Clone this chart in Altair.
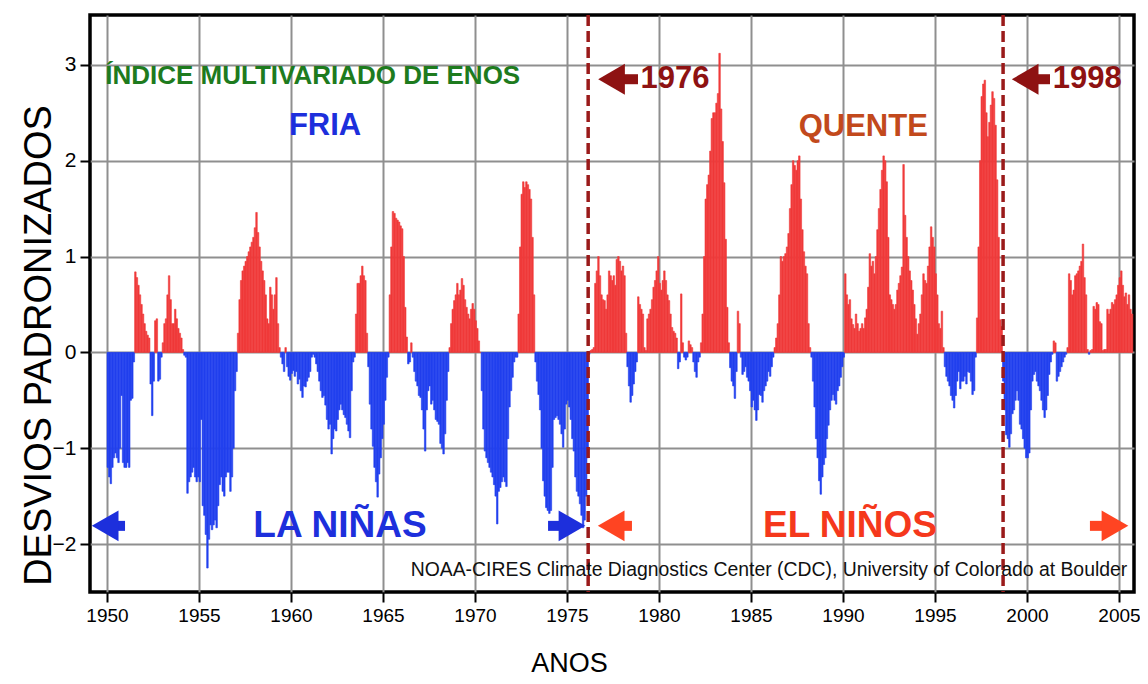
import altair as alt
import pandas as pd

# ---- MEI monthly values (Jan..Dec) ----
y1950 = [-1.2, -1.3, -1.37, -1.2, -1.1, -1.05, -1.1, -1.15, -1.0, -0.45, -1.15, -1.2]
y1951 = [-1.2, -1.15, -1.2, -0.5, -0.48, -0.1, 0.84, 0.78, 0.7, 0.6, 0.5, 0.4]
y1952 = [0.3, 0.22, 0.18, 0.15, -0.33, -0.66, -0.3, 0.33, 0.35, -0.3, -0.28, -0.05]
y1953 = [0.1, 0.3, 0.35, 0.6, 0.8, 0.55, 0.3, 0.3, 0.45, 0.35, 0.25, 0.2]
y1954 = [0.15, 0.03, -0.03, -0.05, -1.47, -1.35, -1.3, -1.25, -1.2, -1.3, -1.35, -1.3]
y1955 = [-1.35, -0.7, -1.6, -1.7, -1.9, -2.25, -1.95, -1.8, -1.85, -1.8, -1.75, -1.83]
y1956 = [-1.6, -1.38, -1.3, -1.45, -1.5, -1.3, -1.25, -1.25, -1.45, -1.3, -1.0, -0.4]
y1957 = [-0.2, 0.2, 0.55, 0.75, 0.85, 0.9, 0.95, 1.0, 1.05, 1.1, 1.15, 1.2]
y1958 = [1.3, 1.46, 1.25, 1.1, 0.95, 0.85, 0.75, 0.6, 0.35, 0.3, 0.68, 0.6]
y1959 = [0.45, 0.6, 0.78, 0.3, 0.05, -0.05, -0.12, -0.2, 0.05, -0.15, -0.25, -0.29]
y1960 = [-0.22, -0.19, -0.25, -0.2, -0.33, -0.28, -0.4, -0.47, -0.35, -0.36, -0.3, -0.26]
y1961 = [-0.2, -0.05, -0.02, -0.05, -0.12, -0.2, -0.3, -0.4, -0.47, -0.45, -0.55, -0.7]
y1962 = [-0.8, -0.75, -1.06, -0.9, -0.8, -0.82, -0.7, -0.6, -0.54, -0.6, -0.65, -0.68]
y1963 = [-0.75, -0.82, -0.89, -0.4, -0.1, -0.05, 0.4, 0.72, 0.72, 0.8, 0.9, 0.8]
y1964 = [0.75, 0.2, -0.15, -0.54, -0.8, -0.98, -1.2, -1.35, -1.51, -1.27, -1.1, -0.9]
y1965 = [-0.75, -0.5, -0.26, -0.05, 0.6, 1.1, 1.47, 1.45, 1.4, 1.38, 1.36, 1.32]
y1966 = [1.29, 1.0, 0.47, 0.16, -0.12, -0.1, 0.1, -0.05, -0.2, -0.3, -0.35, -0.45]
y1967 = [-0.47, -0.6, -0.8, -1.03, -0.6, -0.4, -0.35, -0.54, -0.5, -0.6, -0.7, -0.72]
y1968 = [-0.75, -0.95, -1.0, -1.06, -0.85, -0.5, -0.2, 0.05, 0.3, 0.45, 0.54, 0.6]
y1969 = [0.72, 0.6, 0.65, 0.77, 0.7, 0.55, 0.47, 0.4, 0.35, 0.45, 0.51, 0.45]
y1970 = [0.33, 0.25, 0.12, 0.0, -0.4, -0.8, -1.03, -1.1, -1.15, -1.2, -1.25, -1.3]
y1971 = [-1.38, -1.5, -1.79, -1.45, -1.41, -1.35, -1.3, -1.35, -1.4, -0.9, -0.57, -0.4]
y1972 = [-0.26, -0.1, -0.05, -0.05, 0.4, 1.1, 1.65, 1.78, 1.72, 1.78, 1.75, 1.7]
y1973 = [1.6, 1.2, 0.6, -0.1, -0.3, -0.44, -0.6, -1.0, -1.34, -1.5, -1.62, -1.65]
y1974 = [-1.68, -1.65, -1.2, -0.7, -0.68, -0.66, -0.7, -0.75, -0.85, -0.99, -0.8, -0.54]
y1975 = [-0.5, -0.57, -0.7, -0.9, -1.03, -1.3, -1.45, -1.5, -1.58, -1.7, -1.83, -1.75]
y1976 = [-1.5, -1.1, -0.02, 0.02, 0.03, 0.05, 0.72, 0.85, 1.0, 0.8, 0.6, 0.55]
y1977 = [0.54, 0.45, 0.6, 0.85, 0.8, 0.75, 0.8, 0.7, 0.97, 1.0, 0.95, 0.85]
y1978 = [0.9, 0.8, 0.2, -0.15, -0.35, -0.52, -0.45, -0.33, -0.2, -0.1, 0.58, 0.5]
y1979 = [0.45, 0.4, 0.05, 0.02, 0.35, 0.4, 0.45, 0.55, 0.68, 0.75, 0.85, 1.0]
y1980 = [0.72, 0.65, 0.75, 0.85, 0.75, 0.6, 0.54, 0.4, 0.26, 0.22, 0.2, 0.15]
y1981 = [-0.17, -0.1, 0.61, 0.1, -0.05, -0.08, -0.05, 0.12, 0.08, 0.05, -0.1, -0.2]
y1982 = [-0.26, -0.1, -0.05, 0.1, 0.4, 1.0, 1.6, 1.75, 1.85, 2.1, 2.44, 2.5]
y1983 = [2.5, 2.6, 2.7, 3.12, 2.54, 2.2, 1.77, 1.18, 0.47, 0.1, -0.16, -0.3]
y1984 = [-0.35, -0.48, -0.2, 0.43, 0.3, -0.05, -0.23, -0.2, -0.15, -0.26, -0.3, -0.4]
y1985 = [-0.57, -0.5, -0.6, -0.71, -0.6, -0.44, -0.45, -0.52, -0.4, -0.35, -0.3, -0.2]
y1986 = [-0.25, -0.15, -0.05, 0.05, 0.15, 0.3, 0.6, 1.0, 0.95, 1.0, 1.03, 1.1]
y1987 = [1.24, 1.5, 1.75, 2.0, 1.95, 1.9, 2.0, 2.05, 1.6, 1.28, 1.05, 0.9]
y1988 = [0.82, 0.3, 0.05, -0.05, -0.3, -0.57, -0.9, -1.1, -1.34, -1.48, -1.3, -1.17]
y1989 = [-1.1, -0.9, -0.76, -0.6, -0.5, -0.44, -0.5, -0.54, -0.4, -0.35, -0.26, -0.15]
y1990 = [-0.05, 0.82, 0.6, 0.5, 0.55, 0.35, 0.29, 0.25, 0.4, 0.3, 0.22, 0.25]
y1991 = [0.3, 0.25, 0.36, 0.45, 0.68, 1.03, 0.9, 0.95, 0.82, 1.0, 1.28, 1.5]
y1992 = [1.7, 1.9, 2.05, 2.0, 1.78, 1.2, 0.6, 0.55, 0.5, 0.45, 0.5, 0.65]
y1993 = [0.72, 0.8, 0.89, 1.96, 1.43, 1.2, 1.0, 0.85, 0.75, 0.65, 0.5, 0.35]
y1994 = [0.19, 0.3, 0.4, 0.6, 0.82, 0.75, 0.72, 0.9, 1.1, 1.31, 1.2, 1.1]
y1995 = [0.82, 0.6, 0.3, 0.25, 0.43, 0.05, -0.15, -0.25, -0.3, -0.35, -0.45, -0.5]
y1996 = [-0.58, -0.45, -0.3, -0.2, -0.38, -0.3, -0.3, -0.25, -0.33, -0.2, -0.21, -0.3]
y1997 = [-0.44, -0.4, -0.05, 0.36, 1.1, 2.0, 2.67, 2.8, 2.84, 2.5, 2.25, 2.4]
y1998 = [2.58, 2.72, 2.65, 2.37, 1.8, 1.2, 0.34, 0.27, -0.3, -0.6, -0.86, -0.9]
y1999 = [-0.99, -0.85, -0.64, -0.6, -0.5, -0.4, -0.5, -0.75, -0.8, -0.9, -1.0, -1.1]
y2000 = [-1.1, -1.05, -0.6, -0.3, -0.23, -0.2, -0.3, -0.35, -0.4, -0.5, -0.6, -0.68]
y2001 = [-0.6, -0.45, -0.23, -0.1, -0.02, 0.12, 0.1, -0.3, -0.25, -0.2, -0.15, -0.1]
y2002 = [-0.05, -0.02, 0.05, 0.82, 0.75, 0.6, 0.65, 0.8, 0.82, 0.85, 0.9, 0.95]
y2003 = [1.13, 0.78, 0.6, 0.03, -0.02, 0.02, 0.03, 0.48, 0.45, 0.52, 0.5, 0.32]
y2004 = [0.3, 0.02, 0.03, 0.03, 0.45, 0.4, 0.45, 0.52, 0.5, 0.55, 0.6, 0.7]
y2005 = [0.78, 0.85, 0.7, 0.58, 0.62, 0.5, 0.6, 0.45, 0.4]

years_data = [y1950, y1951, y1952, y1953, y1954, y1955, y1956, y1957, y1958, y1959,
              y1960, y1961, y1962, y1963, y1964, y1965, y1966, y1967, y1968, y1969,
              y1970, y1971, y1972, y1973, y1974, y1975, y1976, y1977, y1978, y1979,
              y1980, y1981, y1982, y1983, y1984, y1985, y1986, y1987, y1988, y1989,
              y1990, y1991, y1992, y1993, y1994, y1995, y1996, y1997, y1998, y1999,
              y2000, y2001, y2002, y2003, y2004, y2005]
first_year = 1950

regime_shifts = [1976.15, 1998.7]
x_ticks = [1950, 1955, 1960, 1965, 1970, 1975, 1980, 1985, 1990, 1995, 2000, 2005]
y_ticks = [-2, -1, 0, 1, 2, 3]

# annotation arrows: head (tip side) year, tail year, value, colour group
arrow_head = [1949.9, 1975.27, 1977.4, 2004.78, 1977.42, 1999.9]
arrow_tail = [1950.98, 1973.97, 1978.53, 2003.42, 1978.86, 2001.25]
arrow_val = [-1.81, -1.81, -1.81, -1.81, 2.85, 2.85]
arrow_dir = ["left", "right", "left", "right", "left", "left"]
arrow_col = ["#1d2fdc", "#1d2fdc", "#ff4422", "#ff4422", "#8e1212", "#8e1212"]

rows = []
for i, vals in enumerate(years_data):
    for m, v in enumerate(vals):
        start = first_year + i + m / 12.0
        rows.append({"start": start, "end": start + 1 / 12.0, "mei": v, "base": 0.0,
                     "fase": "pos" if v >= 0 else "neg"})
df = pd.DataFrame(rows)

FONT = "Liberation Sans, Arial, sans-serif"
RED = "#f03a3a"
BLUE = "#2240ee"

xs = alt.Scale(domain=[1949.076, 2005.815], nice=False, zero=False)
ys = alt.Scale(domain=[-2.5, 3.52], nice=False, zero=False)

color_scale = alt.Scale(domain=["pos", "neg"], range=[RED, BLUE])

bars = alt.Chart(df).mark_rect(strokeWidth=0.6).encode(
    x=alt.X("start:Q", scale=xs,
            axis=alt.Axis(values=x_ticks, format="d", title="ANOS",
                          titleX=479, titleY=71, titleAlign="center",
                          titleBaseline="middle")),
    x2="end:Q",
    y=alt.Y("mei:Q", scale=ys,
            axis=alt.Axis(values=y_ticks, format="d", title="DESVIOS PADRONIZADOS",
                          titleX=-51, titleY=330, titleAlign="center",
                          titleBaseline="middle", titleAngle=-90)),
    y2="base:Q",
    color=alt.Color("fase:N", scale=color_scale, legend=None),
    stroke=alt.Stroke("fase:N", scale=color_scale, legend=None),
)

rules = alt.Chart(pd.DataFrame({"yr": regime_shifts})).mark_rule(
    color="#9a1a1a", strokeWidth=3.5, strokeDash=[11, 5]
).encode(x=alt.X("yr:Q", scale=xs))

arr = pd.DataFrame({"head": arrow_head, "tail": arrow_tail, "v": arrow_val,
                    "dir": arrow_dir, "col": arrow_col})
shafts = alt.Chart(arr).mark_rule(strokeWidth=10, strokeCap="butt").encode(
    x=alt.X("head:Q", scale=xs), x2="tail:Q", y=alt.Y("v:Q", scale=ys),
    color=alt.Color("col:N", scale=None))
heads = alt.Chart(arr).mark_point(filled=True, opacity=1, size=950, strokeWidth=0).encode(
    x=alt.X("head:Q", scale=xs), y=alt.Y("v:Q", scale=ys),
    color=alt.Color("col:N", scale=None),
    shape=alt.Shape("dir:N", scale=alt.Scale(domain=["left", "right"],
                                               range=["triangle-left", "triangle-right"]),
                    legend=None))


def label(txt, x, y, color, size, align="center", weight="bold"):
    d = pd.DataFrame({"x": [x], "y": [y], "t": [txt]})
    return alt.Chart(d).mark_text(color=color, fontSize=size, align=align,
                                  baseline="middle", font=FONT, fontWeight=weight).encode(
        x=alt.X("x:Q", scale=xs), y=alt.Y("y:Q", scale=ys), text="t:N")


texts = [
    label("ÍNDICE MULTIVARIADO DE ENOS", 1949.9, 2.88, "#1e7b1e", 26, align="left"),
    label("FRIA", 1961.85, 2.36, "#1d2fdc", 31),
    label("QUENTE", 1991.1, 2.35, "#c2491c", 31),
    label("1976", 1979.0, 2.85, "#8e1212", 31, align="left"),
    label("1998", 2001.4, 2.85, "#8e1212", 31, align="left"),
    label("LA NIÑAS", 1962.66, -1.81, "#1d2fdc", 37),
    label("EL NIÑOS", 1990.38, -1.81, "#f5381c", 37),
    label("NOAA-CIRES Climate Diagnostics Center (CDC), University of Colorado at Boulder",
          2005.45, -2.27, "#111111", 19.4, align="right", weight="normal"),
]

chart = alt.layer(bars, rules, shafts, heads, *texts).properties(
    width=1044, height=577,
    autosize=alt.AutoSizeParams(type="none"),
    padding={"left": 82, "top": 7, "right": 6, "bottom": 84},
).configure_view(
    stroke="black", strokeWidth=3.5
).configure_axis(
    grid=True, gridColor="#8f8f8f", gridWidth=2, domain=False,
    tickColor="black", tickWidth=2, tickSize=10,
    labelFont=FONT, labelFontSize=19, labelColor="black", labelPadding=4,
    titleFont=FONT, titleFontWeight="normal", titleColor="black",
).configure_axisX(
    titleFontSize=27,
).configure_axisY(
    labelFontSize=21, titleFontSize=38,
)

chart.save("out.html", embed_options={"renderer": "svg", "actions": False})
